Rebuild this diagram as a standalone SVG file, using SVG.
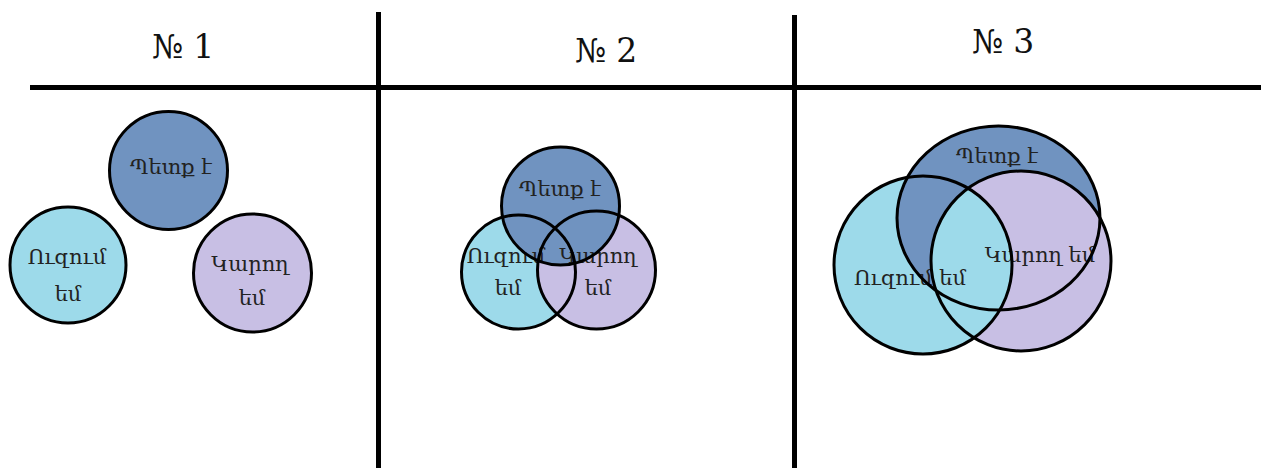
<svg xmlns="http://www.w3.org/2000/svg" width="1261" height="468" viewBox="0 0 1261 468">
<style>
.bg{fill:#ffffff}
.rule{stroke:#000;stroke-width:5;stroke-linecap:butt;fill:none}
.head{font-family:"DejaVu Serif","Liberation Serif",serif;font-size:33px;fill:#111;text-anchor:middle}
.lbl{font-family:"DejaVu Serif","Noto Sans","DejaVu Sans",serif;font-size:21px;fill:#222;text-anchor:middle}
.must{fill:#7093c0}
.want{fill:#9ddaea}
.can{fill:#c8bfe4}
.ol{fill:none;stroke:#000;stroke-width:3}
</style>
<defs>
<clipPath id="clipCan3"><circle cx="1021" cy="261" r="90"/></clipPath>
</defs>
<rect class="bg" x="0" y="0" width="1261" height="468"/>

<g id="rules">
<line class="rule" x1="30" y1="87.5" x2="1261" y2="87.5"/>
<line class="rule" x1="378.5" y1="12" x2="378.5" y2="468"/>
<line class="rule" x1="794.5" y1="15" x2="794.5" y2="468"/>
</g>

<g id="headers">
<text class="head" x="183" y="58">№ 1</text>
<text class="head" x="606" y="62">№ 2</text>
<text class="head" x="1003" y="53">№ 3</text>
</g>

<!-- Panel 1 -->
<g id="p1-must"><circle class="must" cx="168.5" cy="170.5" r="59"/><text class="lbl" x="171" y="174">Պետք է</text></g>
<g id="p1-want"><circle class="want" cx="68" cy="265" r="58"/><text class="lbl" x="67" y="264">Ուզում</text><text class="lbl" x="68" y="301">եմ</text></g>
<g id="p1-can"><circle class="can" cx="252.5" cy="273" r="59"/><text class="lbl" x="250" y="271">Կարող</text><text class="lbl" x="252" y="305">եմ</text></g>

<!-- Panel 2 -->
<g id="p2-want"><circle class="want" cx="518.5" cy="272" r="57"/></g>
<g id="p2-can"><circle class="can" cx="596.5" cy="270" r="59"/></g>
<g id="p2-must"><circle class="must" cx="560.5" cy="206" r="59"/></g>
<g id="p2-labels">
<text class="lbl" x="560" y="196">Պետք է</text>
<text class="lbl" x="506" y="263">Ուզում</text><text class="lbl" x="508" y="295">եմ</text>
<text class="lbl" x="598" y="263">Կարող</text><text class="lbl" x="598" y="295">եմ</text>
</g>

<!-- Panel 3 -->
<g id="p3-want"><circle class="want" cx="923" cy="265" r="89"/></g>
<g id="p3-must"><ellipse class="must" cx="998.5" cy="218" rx="101.5" ry="92"/></g>
<g id="p3-can"><circle class="can" cx="1021" cy="261" r="90"/></g>
<g id="p3-overlap"><circle class="want" cx="923" cy="265" r="89" clip-path="url(#clipCan3)"/></g>
<g id="p3-labels">
<text class="lbl" x="997" y="163">Պետք է</text>
<text class="lbl" x="1040" y="262">Կարող եմ</text>
<text class="lbl" x="910" y="285">Ուզում եմ</text>
</g>

<g id="outlines">
<circle class="ol" cx="168.5" cy="170.5" r="59"/>
<circle class="ol" cx="68" cy="265" r="58"/>
<circle class="ol" cx="252.5" cy="273" r="59"/>
<circle class="ol" cx="518.5" cy="272" r="57"/>
<circle class="ol" cx="596.5" cy="270" r="59"/>
<circle class="ol" cx="560.5" cy="206" r="59"/>
<circle class="ol" cx="923" cy="265" r="89"/>
<ellipse class="ol" cx="998.5" cy="218" rx="101.5" ry="92"/>
<circle class="ol" cx="1021" cy="261" r="90"/>
</g>
</svg>
